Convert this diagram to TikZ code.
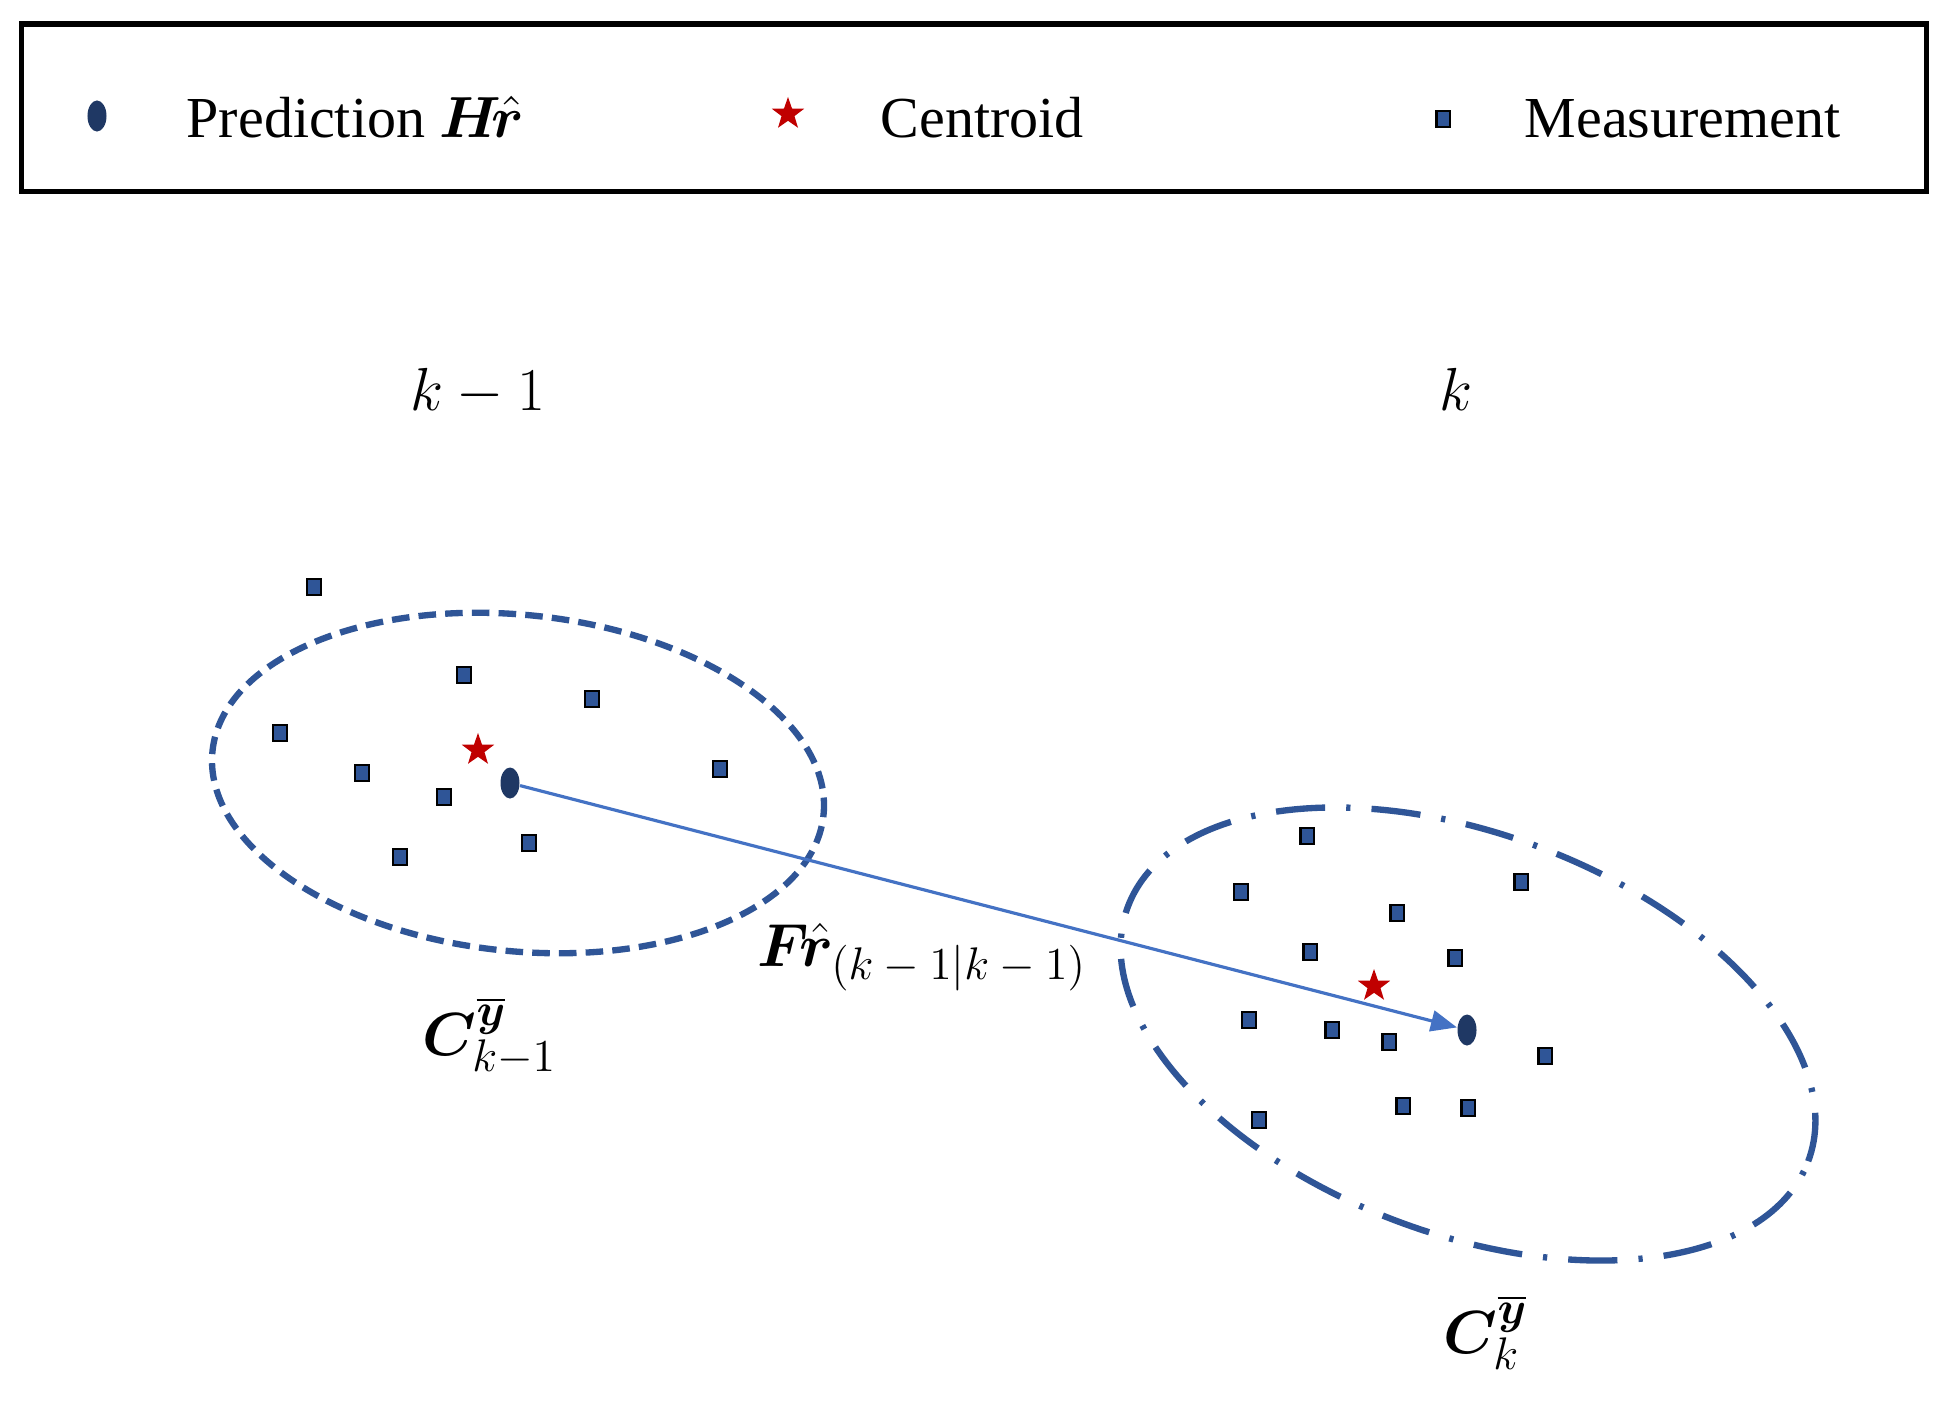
\RequirePackage{fix-cm}
\documentclass[tikz,border=0pt]{standalone}
\usepackage{fontspec}
\setmainfont{Liberation Serif}
\usepackage{bm}
\newcommand{\bigsc}[1]{\mbox{\fontsize{13}{15}\selectfont$#1$}}
\usetikzlibrary{shapes.geometric, arrows.meta}
\definecolor{navy}{HTML}{1F3864}
\definecolor{gateblue}{HTML}{2F5597}
\definecolor{arrowblue}{HTML}{4472C4}
\definecolor{starred}{HTML}{C00000}
\begin{document}
\begin{tikzpicture}[x=0.01cm, y=-0.01cm,
  meas/.style={rectangle, draw=black, line width=0.7pt, fill=gateblue, minimum width=0.135cm, minimum height=0.155cm, inner sep=0pt},
  cent/.style={star, star points=5, star point ratio=2.5, fill=starred, minimum size=0.34cm, inner sep=0pt},
  pred/.style={ellipse, fill=navy, minimum width=0.19cm, minimum height=0.31cm, inner sep=0pt},
  gateA/.style={draw=gateblue, line width=1.8pt, dash pattern=on 5pt off 2.6pt},
  gateB/.style={draw=gateblue, line width=1.8pt, dash pattern=on 14pt off 6pt on 1.2pt off 6pt},
  lab/.style={font=\fontsize{16.5}{20}\selectfont, inner sep=0pt},
  mlab/.style={font=\fontsize{17.28}{21}\selectfont, inner sep=0pt},
  flow/.style={draw=arrowblue, line width=0.9pt, -{Triangle[length=0.26cm, width=0.21cm]}}]
\useasboundingbox (0,0) rectangle (1946,1400);
\fill[white] (0,0) rectangle (1946,1400);

% legend
\draw[line width=1.45pt] (21.5,24) rectangle (1926.5,191.5);
\node[pred] (lp) at (97,116) {};
\node[lab, anchor=base west] (lpt) at (186,137) {Prediction $\bm{H}\!\bm{\hat{r}}$};
\node[cent] (lc) at (788,114) {};
\node[lab, anchor=base west] (lct) at (880,137) {Centroid};
\node[meas] (lm) at (1443,119) {};
\node[lab, anchor=base west] (lmt) at (1524,137) {Measurement};

% time labels
\node[mlab, anchor=base] (t1) at (478,410) {$k-1$};
\node[mlab, anchor=base] (t2) at (1456,410) {$k$};

% gates
\draw[gateA, rotate around={-6:(518,783)}] (518,783) ellipse [x radius=3.07cm, y radius=1.68cm];
\draw[gateB, rotate around={-20.5:(1468,1034)}] (1468,1034) ellipse [x radius=3.63cm, y radius=2.0cm];

% left cluster
\node[meas] (a1) at (314,587) {};
\node[meas] (a2) at (464,675) {};
\node[meas] (a3) at (592,699) {};
\node[meas] (a4) at (280,733) {};
\node[meas] (a5) at (362,773) {};
\node[meas] (a6) at (444,797) {};
\node[meas] (a7) at (720,769) {};
\node[meas] (a8) at (400,857) {};
\node[meas] (a9) at (529,843) {};
\node[cent] (ca) at (478,750) {};
\node[pred] (pa) at (510,783) {};

% right cluster
\node[meas] (b1) at (1307,836) {};
\node[meas] (b2) at (1241,892) {};
\node[meas] (b3) at (1521,882) {};
\node[meas] (b4) at (1397,913) {};
\node[meas] (b5) at (1310,952) {};
\node[meas] (b6) at (1455,958) {};
\node[meas] (b7) at (1249,1020) {};
\node[meas] (b8) at (1332,1030) {};
\node[meas] (b9) at (1389,1042) {};
\node[meas] (b10) at (1545,1056) {};
\node[meas] (b11) at (1259,1120) {};
\node[meas] (b12) at (1403,1106) {};
\node[meas] (b13) at (1468,1108) {};
\node[cent] (cb) at (1374,986) {};
\node[pred] (pb) at (1467,1030) {};

% prediction arrow
\draw[flow] (pa) -- (pb);
\node[mlab, anchor=base west] (fl) at (757,966) {$\bm{F}\!\bm{\hat{r}}_{\bigsc{(k-1|k-1)}}$};

% gate labels
\node[mlab, anchor=base west] (g1) at (422,1055) {$\bm{C}^{\bigsc{\overline{\bm{y}}}}_{\bigsc{k{-}1}}$};
\node[mlab, anchor=base west] (g2) at (1443,1353) {$\bm{C}^{\bigsc{\overline{\bm{y}}}}_{\bigsc{k}}$};
\end{tikzpicture}
\end{document}
